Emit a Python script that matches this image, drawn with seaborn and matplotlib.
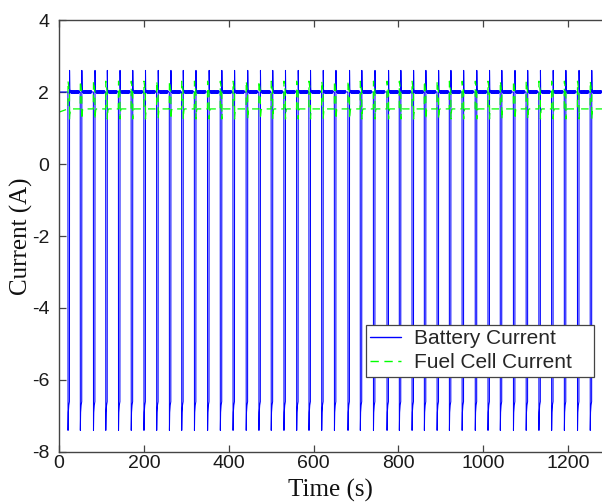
import numpy as np
import pandas as pd
import matplotlib
matplotlib.use("Agg")
import matplotlib.pyplot as plt
import seaborn as sns

# ---- data ----
pulse_start = [21, 50, 81, 110, 140, 170, 200, 230, 260, 289, 319, 350, 380, 410,
               441, 471, 500, 530, 560, 589, 619, 649, 681, 710, 741, 773, 802, 832,
               861, 891, 920, 950, 981, 1011, 1040, 1071, 1101, 1131, 1161, 1191,
               1222, 1252]
t_end = 1280.0

bat_rest = 2.0
# one load pulse of the battery current (seconds after pulse start, amperes)
bat_pulse_offset = [-0.3, 0.0, 0.3, 1.0, 2.2, 3.6, 3.9, 4.4, 5.2]
bat_pulse_value = [2.0, 2.0, -7.4, -6.9, -6.7, -6.6, 2.6, 2.1, 2.0]
# small ripple on the resting battery current between pulses
bat_rest_offset = [6.5, 7.5, 8.5, 9.5, 10.5, 11.5, 12.5, 13.5, 14.5, 15.5, 16.5,
                   17.5, 18.5, 19.5, 20.5, 21.5, 22.5, 23.5, 24.5, 25.5, 26.5, 27.5]
bat_rest_value = [2.035, 1.965, 2.035, 1.965, 2.035, 1.965, 2.035, 1.965, 2.035,
                  1.965, 2.035, 1.965, 2.035, 1.965, 2.035, 1.965, 2.035, 1.965,
                  2.035, 1.965, 2.035, 2.0]

fc_start = 1.44
fc_rest = 1.53
fc_pulse_offset = [-0.3, 0.0, 0.3, 3.6, 3.9, 4.3, 5.5, 7.0]
fc_pulse_value = [1.53, 1.53, 2.3, 2.0, 1.25, 1.35, 1.5, 1.53]

# ---- build series from the values above ----
bt, bv, ft, fv = [0.0], [bat_rest], [0.0], [fc_start]
for t0 in pulse_start:
    for o, v in zip(bat_pulse_offset + bat_rest_offset,
                    bat_pulse_value + bat_rest_value):
        if t0 + o < t_end:
            bt.append(t0 + o); bv.append(v)
    for o, v in zip(fc_pulse_offset, fc_pulse_value):
        ft.append(t0 + o); fv.append(v)
bt.append(t_end); bv.append(bat_rest)
ft.append(t_end); fv.append(fc_rest)

bat_df = pd.DataFrame({"Time": bt, "Current": bv})
fc_df = pd.DataFrame({"Time": ft, "Current": fv})

sns.set_theme(style="white")
plt.rcParams["font.family"] = ["Liberation Sans", "DejaVu Sans"]

fig = plt.figure(figsize=(6.02, 5.04), dpi=100)
ax = fig.add_axes([59 / 602, 52 / 504, 543 / 602, 432 / 504])

sns.lineplot(data=bat_df, x="Time", y="Current", ax=ax, sort=False, estimator=None,
             color="#0000ff", linewidth=0.75, label="Battery Current")
sns.lineplot(data=fc_df, x="Time", y="Current", ax=ax, sort=False, estimator=None,
             color="#00ff00", linewidth=0.9, label="Fuel Cell Current",
             linestyle=(0, (6, 4)))

ax.set_xlim(0, 1280)
ax.set_ylim(-8, 4)
ax.set_xticks([0, 200, 400, 600, 800, 1000, 1200])
ax.set_yticks([-8, -6, -4, -2, 0, 2, 4])
ax.set_yticklabels(["-8", "-6", "-4", "-2", "0", "2", "4"])

for s in ["left", "bottom", "top"]:
    ax.spines[s].set_visible(True)
    ax.spines[s].set_color("#444444")
    ax.spines[s].set_linewidth(1.0)
ax.spines["right"].set_visible(False)

ax.tick_params(axis="both", which="both", direction="in", length=5, width=0.9,
               color="#444444", labelsize=14, labelcolor="#1a1a1a",
               top=True, bottom=True, left=True, right=False)
ax.tick_params(axis="x", pad=2)
ax.tick_params(axis="y", pad=7)

ax.set_xlabel("Time (s)", fontsize=18, family=["Liberation Serif"], labelpad=5,
              color="#111111")
ax.set_ylabel("Current (A)", fontsize=18, family=["Liberation Serif"], labelpad=-1,
              color="#111111")

leg = ax.legend(loc="upper left",
                bbox_to_anchor=(366 / 602, 1 - 377 / 504, 228 / 602, 52 / 504),
                bbox_transform=fig.transFigure, mode="expand", frameon=True,
                fancybox=False, framealpha=1.0, edgecolor="#444444", fontsize=15,
                handlelength=1.5, handletextpad=0.6, labelspacing=0.25,
                borderpad=0.2, borderaxespad=0)
leg.get_frame().set_linewidth(0.9)
for h in leg.get_lines():
    h.set_linewidth(1.0)

fig.savefig("out.png", dpi=100)
